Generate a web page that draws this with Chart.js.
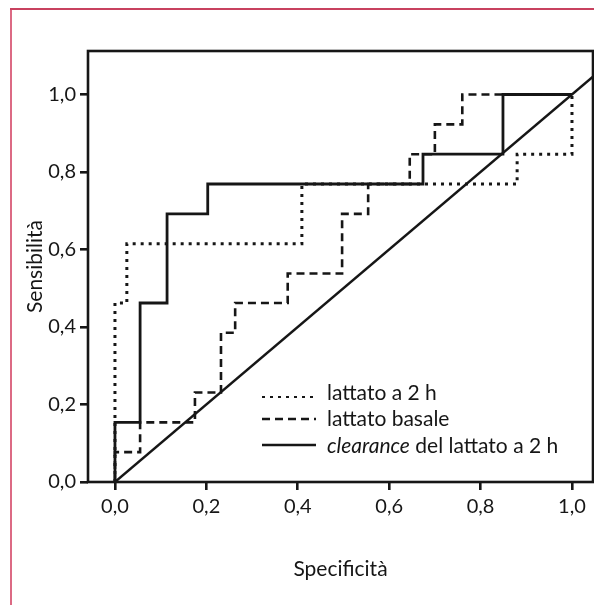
<!DOCTYPE html>
<html>
<head>
<meta charset="utf-8">
<script src="https://cdn.jsdelivr.net/npm/chart.js@4.4.1/dist/chart.umd.min.js"></script>
<style>
    html, body { margin: 0; padding: 0; background: #fff; }
    #wrap { width: 594px; height: 605px; }
</style>
</head>
<body>
<div id="wrap"><canvas id="roc" width="594" height="605"></canvas></div>
<script>
// Axis ticks
const xTicks = [0, 0.2, 0.4, 0.6, 0.8, 1.0];
const yTicks = [0, 0.2, 0.4, 0.6, 0.8, 1.0];

// ROC curves, vertices
const lattato2hX = [0, 0, 0.026, 0.026, 0.409, 0.409, 0.88, 0.88, 1.0, 1.0];
const lattato2hY = [0, 0.462, 0.462, 0.615, 0.615, 0.769, 0.769, 0.846, 0.846, 1.0];

const basaleX = [0, 0, 0.055, 0.055, 0.175, 0.175, 0.232, 0.232, 0.263, 0.263, 0.378, 0.378,
    0.497, 0.497, 0.554, 0.554, 0.645, 0.645, 0.70, 0.70, 0.76, 0.76, 1.0];
const basaleY = [0, 0.077, 0.077, 0.154, 0.154, 0.231, 0.231, 0.385, 0.385, 0.462, 0.462, 0.538,
    0.538, 0.692, 0.692, 0.769, 0.769, 0.846, 0.846, 0.923, 0.923, 1.0, 1.0];

const clearanceX = [0, 0, 0.055, 0.055, 0.114, 0.114, 0.203, 0.203, 0.674, 0.674, 0.849, 0.849, 1.0];
const clearanceY = [0, 0.154, 0.154, 0.462, 0.462, 0.692, 0.692, 0.769, 0.769, 0.846, 0.846, 1.0, 1.0];

// Reference diagonal
const diagX = [0, 1.1];
const diagY = [0, 1.1];

const legendLabels = ['lattato a 2 h', 'lattato basale', 'clearance del lattato a 2 h'];
const italicWord = 'clearance';

const INK = '#161616';
const FONT = 'Lato, sans-serif';

const toPoints = (xs, ys) => xs.map((x, i) => ({ x, y: ys[i] }));
const fmt = v => v.toFixed(1).replace('.', ',');

const lineStyles = {
    dotted: { borderDash: [3, 5], borderWidth: 3 },
    dashed: { borderDash: [8, 5], borderWidth: 2.6 },
    solid: { borderDash: [], borderWidth: 2.8 }
};

// Page frame, plot box and the in-plot legend
const framePlugin = {
    id: 'frame',
    beforeDraw(chart) {
        const { ctx, width, height } = chart;
        ctx.save();
        ctx.fillStyle = '#fff';
        ctx.fillRect(0, 0, width, height);
        ctx.lineWidth = 2;
        ctx.strokeStyle = '#dc6a84';
        ctx.beginPath();
        ctx.moveTo(11, 9);
        ctx.lineTo(11, height);
        ctx.stroke();
        ctx.strokeStyle = '#c8415f';
        ctx.beginPath();
        ctx.moveTo(10, 9);
        ctx.lineTo(width, 9);
        ctx.stroke();
        ctx.restore();
    },
    afterDatasetsDraw(chart) {
        const { ctx, chartArea: a } = chart;
        ctx.save();
        ctx.strokeStyle = INK;
        ctx.lineWidth = 2.6;
        ctx.strokeRect(a.left, a.top, a.right - a.left, a.bottom - a.top);

        // legend
        const styles = [lineStyles.dotted, lineStyles.dashed, lineStyles.solid];
        const baselines = [400, 426, 453];
        const markY = [397, 419, 445];
        legendLabels.forEach((label, i) => {
            ctx.setLineDash(styles[i].borderDash);
            ctx.lineWidth = i === 0 ? 2.2 : 2.4;
            ctx.beginPath();
            ctx.moveTo(262, markY[i]);
            ctx.lineTo(316, markY[i]);
            ctx.stroke();
            ctx.setLineDash([]);
            ctx.fillStyle = INK;
            ctx.textBaseline = 'alphabetic';
            ctx.textAlign = 'left';
            let x = 327;
            let rest = label;
            if (label.startsWith(italicWord)) {
                ctx.font = 'italic 21px ' + FONT;
                ctx.fillText(italicWord, x, baselines[i]);
                x += ctx.measureText(italicWord).width;
                rest = label.slice(italicWord.length);
            }
            ctx.font = '21px ' + FONT;
            ctx.fillText(rest, x, baselines[i]);
        });
        ctx.restore();
    }
};

const baseDs = { showLine: true, pointRadius: 0, fill: false, borderColor: INK, tension: 0 };

new Chart(document.getElementById('roc'), {
    type: 'scatter',
    data: {
        datasets: [
            { ...baseDs, label: 'diagonale', data: toPoints(diagX, diagY), borderWidth: 2.4 },
            { ...baseDs, label: legendLabels[1], data: toPoints(basaleX, basaleY), ...lineStyles.dashed },
            { ...baseDs, label: legendLabels[0], data: toPoints(lattato2hX, lattato2hY), ...lineStyles.dotted },
            { ...baseDs, label: legendLabels[2], data: toPoints(clearanceX, clearanceY), ...lineStyles.solid }
        ]
    },
    options: {
        responsive: false,
        animation: false,
        devicePixelRatio: 1,
        layout: { padding: { top: 51, right: 1, left: 0, bottom: 0 } },
        plugins: { legend: { display: false }, tooltip: { enabled: false } },
        scales: {
            x: {
                type: 'linear',
                min: -0.059,
                max: 1.046,
                afterBuildTicks: s => { s.ticks = xTicks.map(v => ({ value: v })); },
                afterFit: s => { s.height = 123; },
                ticks: { callback: fmt, color: INK, font: { family: FONT, size: 20 }, padding: 5, maxRotation: 0 },
                grid: { drawOnChartArea: false, color: INK, lineWidth: 2.6, tickLength: 8 },
                border: { display: false },
                title: { display: true, text: 'Specificità', color: INK, font: { family: FONT, size: 21 }, padding: { bottom: 23 } }
            },
            y: {
                type: 'linear',
                min: 0,
                max: 1.1123,
                afterBuildTicks: s => { s.ticks = yTicks.map(v => ({ value: v })); },
                afterFit: s => { s.width = 88; },
                ticks: { callback: fmt, color: INK, font: { family: FONT, size: 20 }, padding: 4 },
                grid: { drawOnChartArea: false, color: INK, lineWidth: 2.6, tickLength: 8 },
                border: { display: false },
                title: { display: true, text: 'Sensibilità', color: INK, font: { family: FONT, size: 21 }, padding: { top: 23 } }
            }
        }
    },
    plugins: [framePlugin]
});
</script>
</body>
</html>
